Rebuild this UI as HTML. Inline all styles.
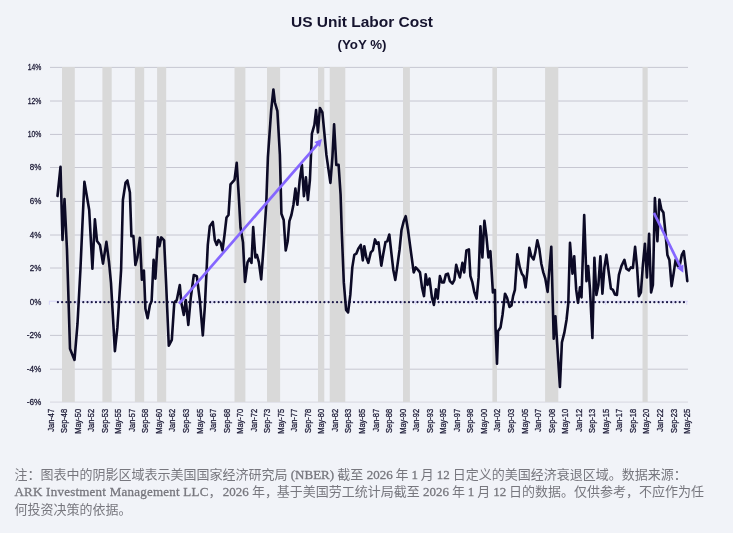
<!DOCTYPE html>
<html lang="zh"><head><meta charset="utf-8"><title>US Unit Labor Cost</title>
<style>
html,body{margin:0;padding:0;}
body{width:733px;height:533px;background:#f1f3f8;position:relative;overflow:hidden;font-family:"Liberation Sans","Noto Sans CJK SC",sans-serif;}
.t1{position:absolute;left:0;width:724px;top:12px;text-align:center;font-weight:bold;font-size:15.5px;line-height:20px;color:#15132e;}
.t2{position:absolute;left:0;width:724px;top:36px;text-align:center;font-weight:bold;font-size:13.3px;line-height:18px;color:#15132e;}
.ax{font-family:"Liberation Sans",sans-serif;font-size:9.1px;fill:#1b1935;stroke:#1b1935;stroke-width:.28px;}
.note{position:absolute;left:14.5px;top:466px;width:700px;font-family:"Liberation Serif","Noto Sans CJK SC",serif;font-size:13px;line-height:17.3px;color:#77777e;white-space:nowrap;}
.note b{font-weight:normal;-webkit-text-stroke:.3px #77777e;}
</style></head><body>
<div class="t1">US Unit Labor Cost</div>
<div class="t2">(YoY %)</div>
<svg width="733" height="533" viewBox="0 0 733 533" style="position:absolute;left:0;top:0">
<line x1="50" x2="688" y1="67.40" y2="67.40" stroke="#c2c2cd" stroke-width="0.9"/>
<line x1="50" x2="688" y1="101.00" y2="101.00" stroke="#c2c2cd" stroke-width="0.9"/>
<line x1="50" x2="688" y1="134.45" y2="134.45" stroke="#c2c2cd" stroke-width="0.9"/>
<line x1="50" x2="688" y1="167.50" y2="167.50" stroke="#c2c2cd" stroke-width="0.9"/>
<line x1="50" x2="688" y1="201.40" y2="201.40" stroke="#c2c2cd" stroke-width="0.9"/>
<line x1="50" x2="688" y1="235.00" y2="235.00" stroke="#c2c2cd" stroke-width="0.9"/>
<line x1="50" x2="688" y1="268.00" y2="268.00" stroke="#c2c2cd" stroke-width="0.9"/>
<line x1="50" x2="688" y1="335.40" y2="335.40" stroke="#c2c2cd" stroke-width="0.9"/>
<line x1="50" x2="688" y1="369.20" y2="369.20" stroke="#c2c2cd" stroke-width="0.9"/>
<line x1="50" x2="688" y1="402.10" y2="402.10" stroke="#d4d4dc" stroke-width="0.9"/>
<rect x="668" y="266.00" width="21" height="4" fill="#f1f3f8"/>
<line x1="49.2" x2="688" y1="301.20" y2="301.20" stroke="#cfcafa" stroke-width="0.7"/>
<line x1="49.40" x2="49.40" y1="301.20" y2="304.80" stroke="#cfcafa" stroke-width="0.7"/>
<line x1="62.96" x2="62.96" y1="301.20" y2="304.80" stroke="#cfcafa" stroke-width="0.7"/>
<line x1="76.52" x2="76.52" y1="301.20" y2="304.80" stroke="#cfcafa" stroke-width="0.7"/>
<line x1="90.08" x2="90.08" y1="301.20" y2="304.80" stroke="#cfcafa" stroke-width="0.7"/>
<line x1="103.64" x2="103.64" y1="301.20" y2="304.80" stroke="#cfcafa" stroke-width="0.7"/>
<line x1="117.20" x2="117.20" y1="301.20" y2="304.80" stroke="#cfcafa" stroke-width="0.7"/>
<line x1="130.76" x2="130.76" y1="301.20" y2="304.80" stroke="#cfcafa" stroke-width="0.7"/>
<line x1="144.32" x2="144.32" y1="301.20" y2="304.80" stroke="#cfcafa" stroke-width="0.7"/>
<line x1="157.88" x2="157.88" y1="301.20" y2="304.80" stroke="#cfcafa" stroke-width="0.7"/>
<line x1="171.44" x2="171.44" y1="301.20" y2="304.80" stroke="#cfcafa" stroke-width="0.7"/>
<line x1="185.00" x2="185.00" y1="301.20" y2="304.80" stroke="#cfcafa" stroke-width="0.7"/>
<line x1="198.56" x2="198.56" y1="301.20" y2="304.80" stroke="#cfcafa" stroke-width="0.7"/>
<line x1="212.12" x2="212.12" y1="301.20" y2="304.80" stroke="#cfcafa" stroke-width="0.7"/>
<line x1="225.68" x2="225.68" y1="301.20" y2="304.80" stroke="#cfcafa" stroke-width="0.7"/>
<line x1="239.24" x2="239.24" y1="301.20" y2="304.80" stroke="#cfcafa" stroke-width="0.7"/>
<line x1="252.80" x2="252.80" y1="301.20" y2="304.80" stroke="#cfcafa" stroke-width="0.7"/>
<line x1="266.36" x2="266.36" y1="301.20" y2="304.80" stroke="#cfcafa" stroke-width="0.7"/>
<line x1="279.92" x2="279.92" y1="301.20" y2="304.80" stroke="#cfcafa" stroke-width="0.7"/>
<line x1="293.48" x2="293.48" y1="301.20" y2="304.80" stroke="#cfcafa" stroke-width="0.7"/>
<line x1="307.04" x2="307.04" y1="301.20" y2="304.80" stroke="#cfcafa" stroke-width="0.7"/>
<line x1="320.60" x2="320.60" y1="301.20" y2="304.80" stroke="#cfcafa" stroke-width="0.7"/>
<line x1="334.16" x2="334.16" y1="301.20" y2="304.80" stroke="#cfcafa" stroke-width="0.7"/>
<line x1="347.72" x2="347.72" y1="301.20" y2="304.80" stroke="#cfcafa" stroke-width="0.7"/>
<line x1="361.28" x2="361.28" y1="301.20" y2="304.80" stroke="#cfcafa" stroke-width="0.7"/>
<line x1="374.84" x2="374.84" y1="301.20" y2="304.80" stroke="#cfcafa" stroke-width="0.7"/>
<line x1="388.40" x2="388.40" y1="301.20" y2="304.80" stroke="#cfcafa" stroke-width="0.7"/>
<line x1="401.96" x2="401.96" y1="301.20" y2="304.80" stroke="#cfcafa" stroke-width="0.7"/>
<line x1="415.52" x2="415.52" y1="301.20" y2="304.80" stroke="#cfcafa" stroke-width="0.7"/>
<line x1="429.08" x2="429.08" y1="301.20" y2="304.80" stroke="#cfcafa" stroke-width="0.7"/>
<line x1="442.64" x2="442.64" y1="301.20" y2="304.80" stroke="#cfcafa" stroke-width="0.7"/>
<line x1="456.20" x2="456.20" y1="301.20" y2="304.80" stroke="#cfcafa" stroke-width="0.7"/>
<line x1="469.76" x2="469.76" y1="301.20" y2="304.80" stroke="#cfcafa" stroke-width="0.7"/>
<line x1="483.32" x2="483.32" y1="301.20" y2="304.80" stroke="#cfcafa" stroke-width="0.7"/>
<line x1="496.88" x2="496.88" y1="301.20" y2="304.80" stroke="#cfcafa" stroke-width="0.7"/>
<line x1="510.44" x2="510.44" y1="301.20" y2="304.80" stroke="#cfcafa" stroke-width="0.7"/>
<line x1="524.00" x2="524.00" y1="301.20" y2="304.80" stroke="#cfcafa" stroke-width="0.7"/>
<line x1="537.56" x2="537.56" y1="301.20" y2="304.80" stroke="#cfcafa" stroke-width="0.7"/>
<line x1="551.12" x2="551.12" y1="301.20" y2="304.80" stroke="#cfcafa" stroke-width="0.7"/>
<line x1="564.68" x2="564.68" y1="301.20" y2="304.80" stroke="#cfcafa" stroke-width="0.7"/>
<line x1="578.24" x2="578.24" y1="301.20" y2="304.80" stroke="#cfcafa" stroke-width="0.7"/>
<line x1="591.80" x2="591.80" y1="301.20" y2="304.80" stroke="#cfcafa" stroke-width="0.7"/>
<line x1="605.36" x2="605.36" y1="301.20" y2="304.80" stroke="#cfcafa" stroke-width="0.7"/>
<line x1="618.92" x2="618.92" y1="301.20" y2="304.80" stroke="#cfcafa" stroke-width="0.7"/>
<line x1="632.48" x2="632.48" y1="301.20" y2="304.80" stroke="#cfcafa" stroke-width="0.7"/>
<line x1="646.04" x2="646.04" y1="301.20" y2="304.80" stroke="#cfcafa" stroke-width="0.7"/>
<line x1="659.60" x2="659.60" y1="301.20" y2="304.80" stroke="#cfcafa" stroke-width="0.7"/>
<line x1="673.16" x2="673.16" y1="301.20" y2="304.80" stroke="#cfcafa" stroke-width="0.7"/>
<line x1="686.72" x2="686.72" y1="301.20" y2="304.80" stroke="#cfcafa" stroke-width="0.7"/>
<rect x="62.0" y="67.05" width="12.80" height="334.95" fill="#d9d9d9"/>
<rect x="102.4" y="67.05" width="9.30" height="334.95" fill="#d9d9d9"/>
<rect x="134.9" y="67.05" width="9.30" height="334.95" fill="#d9d9d9"/>
<rect x="157.1" y="67.05" width="9.10" height="334.95" fill="#d9d9d9"/>
<rect x="234.5" y="67.05" width="10.90" height="334.95" fill="#d9d9d9"/>
<rect x="267" y="67.05" width="13.10" height="334.95" fill="#d9d9d9"/>
<rect x="318" y="67.05" width="6.30" height="334.95" fill="#d9d9d9"/>
<rect x="329.7" y="67.05" width="15.60" height="334.95" fill="#d9d9d9"/>
<rect x="403" y="67.05" width="6.90" height="334.95" fill="#d9d9d9"/>
<rect x="492.4" y="67.05" width="4.60" height="334.95" fill="#d9d9d9"/>
<rect x="545.1" y="67.05" width="13.20" height="334.95" fill="#d9d9d9"/>
<rect x="642.5" y="67.05" width="5.20" height="334.95" fill="#d9d9d9"/>
<line x1="57.9" x2="688" y1="302.20" y2="302.20" stroke="#1a1746" stroke-width="2.2" stroke-dasharray="0.01 4.22" stroke-linecap="round"/>
<text transform="translate(41.3,70.10) scale(0.75,1)" text-anchor="end" class="ax">14%</text>
<text transform="translate(41.3,103.70) scale(0.75,1)" text-anchor="end" class="ax">12%</text>
<text transform="translate(41.3,137.15) scale(0.75,1)" text-anchor="end" class="ax">10%</text>
<text transform="translate(41.3,170.20) scale(0.88,1)" text-anchor="end" class="ax">8%</text>
<text transform="translate(41.3,204.10) scale(0.88,1)" text-anchor="end" class="ax">6%</text>
<text transform="translate(41.3,237.70) scale(0.88,1)" text-anchor="end" class="ax">4%</text>
<text transform="translate(41.3,270.70) scale(0.88,1)" text-anchor="end" class="ax">2%</text>
<text transform="translate(41.3,304.60) scale(0.88,1)" text-anchor="end" class="ax">0%</text>
<text transform="translate(41.3,338.10) scale(0.9,1)" text-anchor="end" class="ax">-2%</text>
<text transform="translate(41.3,371.90) scale(0.9,1)" text-anchor="end" class="ax">-4%</text>
<text transform="translate(41.3,404.80) scale(0.9,1)" text-anchor="end" class="ax">-6%</text>
<text transform="translate(53.50,408.8) rotate(-90) scale(0.825,1)" text-anchor="end" class="ax">Jan-47</text>
<text transform="translate(67.05,408.8) rotate(-90) scale(0.825,1)" text-anchor="end" class="ax">Sep-48</text>
<text transform="translate(80.59,408.8) rotate(-90) scale(0.825,1)" text-anchor="end" class="ax">May-50</text>
<text transform="translate(94.14,408.8) rotate(-90) scale(0.825,1)" text-anchor="end" class="ax">Jan-52</text>
<text transform="translate(107.68,408.8) rotate(-90) scale(0.825,1)" text-anchor="end" class="ax">Sep-53</text>
<text transform="translate(121.22,408.8) rotate(-90) scale(0.825,1)" text-anchor="end" class="ax">May-55</text>
<text transform="translate(134.77,408.8) rotate(-90) scale(0.825,1)" text-anchor="end" class="ax">Jan-57</text>
<text transform="translate(148.31,408.8) rotate(-90) scale(0.825,1)" text-anchor="end" class="ax">Sep-58</text>
<text transform="translate(161.86,408.8) rotate(-90) scale(0.825,1)" text-anchor="end" class="ax">May-60</text>
<text transform="translate(175.41,408.8) rotate(-90) scale(0.825,1)" text-anchor="end" class="ax">Jan-62</text>
<text transform="translate(188.95,408.8) rotate(-90) scale(0.825,1)" text-anchor="end" class="ax">Sep-63</text>
<text transform="translate(202.50,408.8) rotate(-90) scale(0.825,1)" text-anchor="end" class="ax">May-65</text>
<text transform="translate(216.04,408.8) rotate(-90) scale(0.825,1)" text-anchor="end" class="ax">Jan-67</text>
<text transform="translate(229.59,408.8) rotate(-90) scale(0.825,1)" text-anchor="end" class="ax">Sep-68</text>
<text transform="translate(243.13,408.8) rotate(-90) scale(0.825,1)" text-anchor="end" class="ax">May-70</text>
<text transform="translate(256.68,408.8) rotate(-90) scale(0.825,1)" text-anchor="end" class="ax">Jan-72</text>
<text transform="translate(270.22,408.8) rotate(-90) scale(0.825,1)" text-anchor="end" class="ax">Sep-73</text>
<text transform="translate(283.76,408.8) rotate(-90) scale(0.825,1)" text-anchor="end" class="ax">May-75</text>
<text transform="translate(297.31,408.8) rotate(-90) scale(0.825,1)" text-anchor="end" class="ax">Jan-77</text>
<text transform="translate(310.86,408.8) rotate(-90) scale(0.825,1)" text-anchor="end" class="ax">Sep-78</text>
<text transform="translate(324.40,408.8) rotate(-90) scale(0.825,1)" text-anchor="end" class="ax">May-80</text>
<text transform="translate(337.94,408.8) rotate(-90) scale(0.825,1)" text-anchor="end" class="ax">Jan-82</text>
<text transform="translate(351.49,408.8) rotate(-90) scale(0.825,1)" text-anchor="end" class="ax">Sep-83</text>
<text transform="translate(365.04,408.8) rotate(-90) scale(0.825,1)" text-anchor="end" class="ax">May-85</text>
<text transform="translate(378.58,408.8) rotate(-90) scale(0.825,1)" text-anchor="end" class="ax">Jan-87</text>
<text transform="translate(392.12,408.8) rotate(-90) scale(0.825,1)" text-anchor="end" class="ax">Sep-88</text>
<text transform="translate(405.67,408.8) rotate(-90) scale(0.825,1)" text-anchor="end" class="ax">May-90</text>
<text transform="translate(419.21,408.8) rotate(-90) scale(0.825,1)" text-anchor="end" class="ax">Jan-92</text>
<text transform="translate(432.76,408.8) rotate(-90) scale(0.825,1)" text-anchor="end" class="ax">Sep-93</text>
<text transform="translate(446.31,408.8) rotate(-90) scale(0.825,1)" text-anchor="end" class="ax">May-95</text>
<text transform="translate(459.85,408.8) rotate(-90) scale(0.825,1)" text-anchor="end" class="ax">Jan-97</text>
<text transform="translate(473.39,408.8) rotate(-90) scale(0.825,1)" text-anchor="end" class="ax">Sep-98</text>
<text transform="translate(486.94,408.8) rotate(-90) scale(0.825,1)" text-anchor="end" class="ax">May-00</text>
<text transform="translate(500.49,408.8) rotate(-90) scale(0.825,1)" text-anchor="end" class="ax">Jan-02</text>
<text transform="translate(514.03,408.8) rotate(-90) scale(0.825,1)" text-anchor="end" class="ax">Sep-03</text>
<text transform="translate(527.57,408.8) rotate(-90) scale(0.825,1)" text-anchor="end" class="ax">May-05</text>
<text transform="translate(541.12,408.8) rotate(-90) scale(0.825,1)" text-anchor="end" class="ax">Jan-07</text>
<text transform="translate(554.66,408.8) rotate(-90) scale(0.825,1)" text-anchor="end" class="ax">Sep-08</text>
<text transform="translate(568.21,408.8) rotate(-90) scale(0.825,1)" text-anchor="end" class="ax">May-10</text>
<text transform="translate(581.75,408.8) rotate(-90) scale(0.825,1)" text-anchor="end" class="ax">Jan-12</text>
<text transform="translate(595.30,408.8) rotate(-90) scale(0.825,1)" text-anchor="end" class="ax">Sep-13</text>
<text transform="translate(608.85,408.8) rotate(-90) scale(0.825,1)" text-anchor="end" class="ax">May-15</text>
<text transform="translate(622.39,408.8) rotate(-90) scale(0.825,1)" text-anchor="end" class="ax">Jan-17</text>
<text transform="translate(635.93,408.8) rotate(-90) scale(0.825,1)" text-anchor="end" class="ax">Sep-18</text>
<text transform="translate(649.48,408.8) rotate(-90) scale(0.825,1)" text-anchor="end" class="ax">May-20</text>
<text transform="translate(663.02,408.8) rotate(-90) scale(0.825,1)" text-anchor="end" class="ax">Jan-22</text>
<text transform="translate(676.57,408.8) rotate(-90) scale(0.825,1)" text-anchor="end" class="ax">Sep-23</text>
<text transform="translate(690.12,408.8) rotate(-90) scale(0.825,1)" text-anchor="end" class="ax">May-25</text>
<polyline points="57.5,196.0 60.5,166.8 62.5,240.0 64.5,199.0 67.0,250.0 70.0,348.7 74.5,359.9 77.5,323.7 80.4,270.0 82.4,225.0 84.4,181.7 89.2,210.0 92.4,268.6 94.9,219.4 97.0,241.0 100.0,245.0 103.0,263.6 106.4,241.9 109.0,262.0 111.0,283.0 112.4,307.5 114.9,351.1 117.4,327.4 121.1,270.0 122.9,200.0 125.6,182.5 127.4,180.5 129.9,192.4 131.4,236.1 133.4,236.1 135.4,264.9 137.4,257.4 139.9,237.9 141.9,279.8 143.9,270.6 145.4,308.7 147.6,318.2 149.9,305.0 151.6,301.2 153.6,259.9 155.4,278.6 157.9,237.4 159.4,246.1 161.3,237.4 164.1,240.4 166.1,283.0 168.8,345.7 171.8,339.9 174.3,302.5 176.8,300.0 179.8,285.0 181.3,302.5 183.8,314.9 185.8,300.0 188.3,324.9 190.8,297.5 193.8,275.0 196.8,276.2 199.8,300.0 202.8,335.4 204.8,307.5 207.8,244.9 209.8,226.2 212.8,221.9 214.8,239.9 216.8,244.9 218.5,240.0 220.5,242.5 222.5,250.4 224.5,235.0 226.5,217.5 228.5,215.0 230.5,184.4 234.5,179.9 236.7,162.9 238.7,194.9 240.5,227.5 243.0,242.4 245.0,281.9 247.5,262.4 249.5,258.7 251.5,262.9 253.2,227.0 255.4,257.4 256.9,254.9 258.9,262.4 261.2,279.4 263.7,244.9 266.2,205.0 267.9,157.4 271.2,110.0 273.4,89.5 274.9,102.5 277.4,111.2 279.9,154.9 281.4,213.7 283.7,220.0 285.7,250.4 287.7,241.2 289.4,221.2 291.4,215.0 293.4,205.0 295.4,188.6 297.4,204.8 299.7,180.0 301.9,164.9 303.9,196.1 305.9,177.4 307.9,199.9 309.9,180.0 311.9,133.7 314.4,124.9 316.1,110.0 317.9,132.4 319.9,108.0 322.4,112.5 324.4,133.7 326.4,154.9 330.4,182.9 332.4,157.4 334.1,124.2 336.3,164.9 338.6,164.9 340.6,194.9 341.8,232.4 343.8,282.4 346.1,309.9 348.1,312.4 350.3,294.9 352.3,267.4 354.3,254.9 356.3,253.7 358.3,248.7 360.8,244.9 362.8,260.4 364.3,246.2 366.3,257.4 368.3,262.9 370.8,252.4 372.8,250.4 375.0,239.4 376.8,243.7 378.5,242.4 381.3,265.7 383.3,253.7 385.5,241.9 387.3,241.2 389.3,234.5 391.3,252.4 393.3,269.9 395.3,279.9 397.5,264.9 399.5,250.0 401.5,230.0 403.7,221.2 405.7,216.2 408.0,230.0 410.0,244.9 413.7,272.4 415.7,267.4 418.0,269.9 420.0,272.4 422.0,287.4 424.0,296.1 425.7,274.4 427.5,284.9 429.5,278.6 431.9,297.4 433.9,304.9 435.9,289.4 437.7,298.6 439.9,276.1 441.9,282.4 443.9,282.4 445.9,274.4 447.9,273.7 449.9,281.1 452.4,283.6 454.4,279.9 456.2,264.9 458.2,272.4 459.9,277.4 462.4,262.9 464.2,272.4 466.4,250.4 468.9,249.4 470.4,276.1 472.4,282.4 474.4,292.4 476.6,298.6 478.6,277.4 480.4,226.2 482.4,257.4 484.4,220.7 486.4,236.2 488.4,257.4 490.4,251.2 492.9,292.4 494.9,289.9 495.5,327.5 497.0,363.7 498.0,331.2 500.5,327.5 502.5,315.0 505.0,293.7 507.0,297.5 509.5,307.0 511.5,305.5 513.1,296.1 514.9,289.9 517.3,254.4 519.8,267.4 521.8,273.7 523.6,276.1 525.6,287.4 527.5,270.0 529.3,247.9 531.3,256.2 533.6,259.4 535.3,252.4 537.3,240.4 539.3,248.7 541.3,263.7 543.3,272.4 545.3,278.6 547.6,291.9 549.3,269.9 551.3,246.7 553.7,338.7 555.4,316.2 557.4,347.4 559.9,386.9 561.9,342.4 564.4,332.4 566.5,320.0 568.3,303.0 570.0,242.9 572.5,273.6 574.2,256.2 576.2,289.9 578.0,302.8 580.0,287.4 581.5,297.4 584.2,215.0 586.5,281.1 588.2,266.1 590.0,289.9 592.4,337.9 594.4,257.9 596.4,294.9 598.4,284.9 600.4,256.2 602.4,293.6 604.4,267.4 606.4,254.9 608.4,269.9 610.9,288.6 612.9,289.9 614.9,294.4 616.9,294.9 618.9,274.9 621.4,266.1 624.4,259.9 626.4,268.6 628.9,270.4 630.9,267.4 632.9,268.0 635.1,246.9 637.1,267.4 638.9,296.1 640.9,292.4 642.9,264.9 644.9,243.7 646.9,277.4 649.1,233.7 651.1,292.4 652.9,284.9 654.9,198.0 657.4,241.2 659.4,199.5 661.4,209.5 663.4,212.5 665.4,232.4 667.4,254.9 669.4,259.9 671.6,286.1 673.6,273.6 675.6,259.9 677.8,266.1 679.8,265.0 681.8,254.9 683.8,251.2 685.8,267.4 687.3,281.1" fill="none" stroke="#0c0a26" stroke-width="2.6" stroke-linejoin="round" stroke-linecap="round"/>
<line x1="179.0" y1="303.7" x2="317.9" y2="143.8" stroke="#8566ff" stroke-width="2.7"/><polygon points="322.0,139.0 320.0,146.9 314.4,142.1" fill="#8566ff"/>
<line x1="653.9" y1="212.8" x2="680.5" y2="267.1" stroke="#8566ff" stroke-width="2.7"/><polygon points="683.3,272.8 676.8,267.9 683.4,264.6" fill="#8566ff"/>
</svg>
<div class="note">注：图表中的阴影区域表示美国国家经济研究局 <b>(NBER)</b> 截至 <b>2026</b><span style="word-spacing:-.35px"> 年 <b>1</b> 月 <b>12</b> 日</span>定义的美国经济衰退区域。数据来源：<br><b style="letter-spacing:.23px">ARK Investment Management LLC</b>，<b style="margin-left:1.3px">2026</b> 年，<span style="margin-left:-1.4px">基</span>于美国劳工统计局截至 <b>2026</b><span style="word-spacing:-.35px"> 年 <b>1</b> 月 <b>12</b> 日</span>的数据。仅供参考，不应作为任<br>何投资决策的依据。</div>
</body></html>
